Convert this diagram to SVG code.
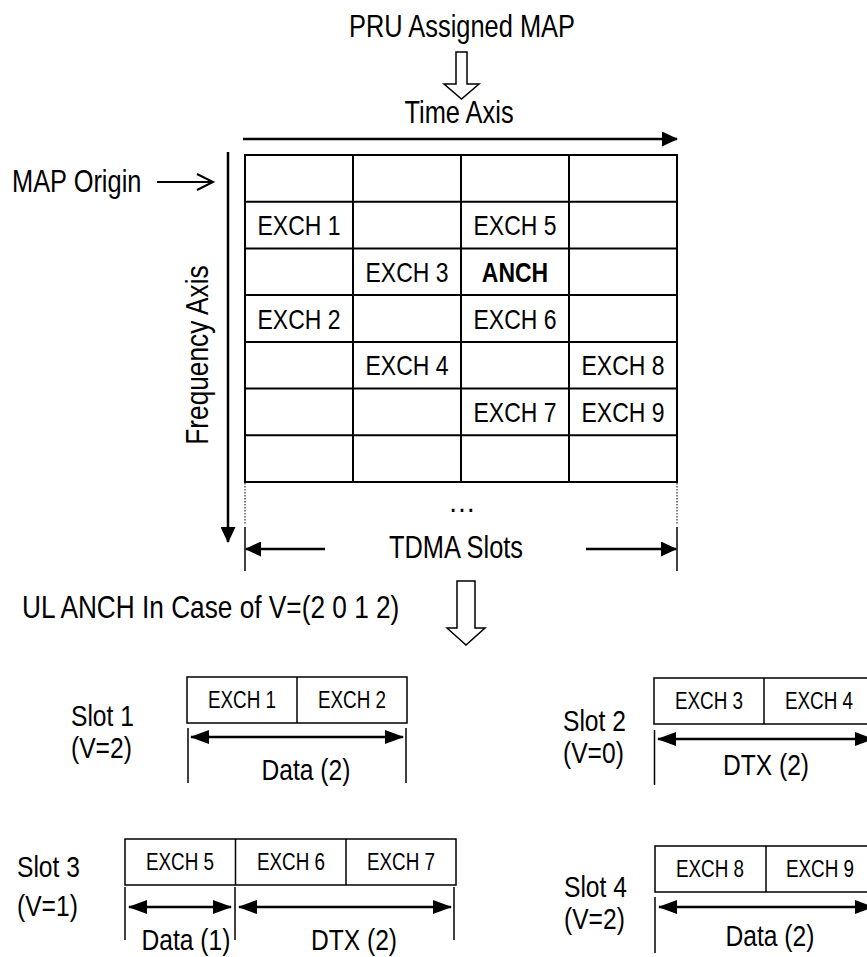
<svg xmlns="http://www.w3.org/2000/svg" width="867" height="957" viewBox="0 0 867 957">
<style>
text { font-family: "Liberation Sans", Arial, sans-serif; fill: #000; }
.big { font-size: 31px; }
.mid { font-size: 30px; }
.cell { font-size: 28px; text-anchor: middle; }
.small { font-size: 23px; text-anchor: middle; }
.c { text-anchor: middle; }
.gl { stroke: #000; stroke-width: 2; fill: none; }
.ax { stroke: #000; stroke-width: 2.5; fill: none; }
.bx { stroke: #000; stroke-width: 1.5; fill: #fff; }
.bar { stroke: #000; stroke-width: 1.5; }
.sa { stroke: #000; stroke-width: 2.5; fill: none; }
.dot { stroke: #000; stroke-width: 1; stroke-dasharray: 1.5 1.5; }
.hollow { fill: #fff; stroke: #000; stroke-width: 1.5; stroke-linejoin: miter; }
</style>
<defs>
<marker id="fa" markerUnits="userSpaceOnUse" markerWidth="16" markerHeight="15" refX="15" refY="7.5" orient="auto-start-reverse">
<path d="M0,0 L16,7.5 L0,15 z" fill="#000"/>
</marker>
<marker id="fs" markerUnits="userSpaceOnUse" markerWidth="19" markerHeight="14" refX="18" refY="7" orient="auto-start-reverse">
<path d="M0,0 L19,7 L0,14 z" fill="#000"/>
</marker>
<marker id="oa" markerUnits="userSpaceOnUse" markerWidth="20" markerHeight="20" refX="17" refY="9" orient="auto">
<path d="M1,1 L17,9 L1,17" fill="none" stroke="#000" stroke-width="2"/>
</marker>
</defs>

<g id="title">
<text class="big c" transform="translate(462,37) scale(0.82,1)">PRU Assigned MAP</text>
<polygon class="hollow" points="456,52 467,52 467,84 479,84 461.5,99 444,84 456,84"/>
</g>

<g id="time-axis">
<text class="big c" transform="translate(459,123) scale(0.82,1)">Time Axis</text>
</g>

<g id="map-origin">
<text class="big" transform="translate(12,192) scale(0.82,1)">MAP Origin</text>
</g>

<g id="frequency-axis">
<text class="big c" transform="translate(208,355) rotate(-90) scale(0.82,1)" style="font-size:32px">Frequency Axis</text>
</g>

<g id="grid">
<rect class="gl" x="245" y="155" width="432" height="327"/>
<line class="gl" x1="353" y1="155" x2="353" y2="482"/>
<line class="gl" x1="461" y1="155" x2="461" y2="482"/>
<line class="gl" x1="569" y1="155" x2="569" y2="482"/>
<line class="gl" x1="245" y1="201.7" x2="677" y2="201.7"/>
<line class="gl" x1="245" y1="248.4" x2="677" y2="248.4"/>
<line class="gl" x1="245" y1="295.1" x2="677" y2="295.1"/>
<line class="gl" x1="245" y1="341.9" x2="677" y2="341.9"/>
<line class="gl" x1="245" y1="388.6" x2="677" y2="388.6"/>
<line class="gl" x1="245" y1="435.3" x2="677" y2="435.3"/>
<text class="cell" transform="translate(299,235) scale(0.82,1)">EXCH 1</text>
<text class="cell" transform="translate(515,235) scale(0.82,1)">EXCH 5</text>
<text class="cell" transform="translate(407,282) scale(0.82,1)">EXCH 3</text>
<text class="cell" transform="translate(515,282) scale(0.82,1)" font-weight="bold">ANCH</text>
<text class="cell" transform="translate(299,328.5) scale(0.82,1)">EXCH 2</text>
<text class="cell" transform="translate(515,328.5) scale(0.82,1)">EXCH 6</text>
<text class="cell" transform="translate(407,375) scale(0.82,1)">EXCH 4</text>
<text class="cell" transform="translate(623,375) scale(0.82,1)">EXCH 8</text>
<text class="cell" transform="translate(515,422) scale(0.82,1)">EXCH 7</text>
<text class="cell" transform="translate(623,422) scale(0.82,1)">EXCH 9</text>
<text class="big c" transform="translate(462,512) scale(0.9,1)">…</text>
</g>

<g id="tdma-slots">
<text class="big c" transform="translate(456,558) scale(0.82,1)">TDMA Slots</text>
</g>

<g id="ul-anch">
<text class="big" transform="translate(22,618) scale(0.82,1)" style="font-size:32px">UL ANCH In Case of V=(2 0 1 2)</text>
<polygon class="hollow" points="457,581 475,581 475,628 485,628 466,645 447,628 457,628"/>
</g>

<g id="slot1">
<text class="mid" transform="translate(71,726) scale(0.82,1)">Slot 1</text>
<text class="mid" transform="translate(71,758) scale(0.82,1)">(V=2)</text>
<rect class="bx" x="187" y="677" width="220" height="46"/>
<line class="bar" x1="297" y1="677" x2="297" y2="723"/>
<text class="small" transform="translate(242,708) scale(0.82,1)">EXCH 1</text>
<text class="small" transform="translate(352,708) scale(0.82,1)">EXCH 2</text>
<text class="mid c" transform="translate(306,780) scale(0.82,1)">Data (2)</text>
</g>

<g id="slot2">
<text class="mid" transform="translate(563,731) scale(0.82,1)">Slot 2</text>
<text class="mid" transform="translate(563,763) scale(0.82,1)">(V=0)</text>
<rect class="bx" x="654" y="678" width="220" height="46"/>
<line class="bar" x1="764" y1="678" x2="764" y2="724"/>
<text class="small" transform="translate(709,709) scale(0.82,1)">EXCH 3</text>
<text class="small" transform="translate(819,709) scale(0.82,1)">EXCH 4</text>
<text class="mid c" transform="translate(766,775) scale(0.82,1)">DTX (2)</text>
</g>

<g id="slot3">
<text class="mid" transform="translate(17,877) scale(0.82,1)">Slot 3</text>
<text class="mid" transform="translate(17,916) scale(0.82,1)">(V=1)</text>
<rect class="bx" x="125" y="839" width="331" height="46"/>
<line class="bar" x1="235.5" y1="839" x2="235.5" y2="885"/>
<line class="bar" x1="346" y1="839" x2="346" y2="885"/>
<text class="small" transform="translate(180,870) scale(0.82,1)">EXCH 5</text>
<text class="small" transform="translate(291,870) scale(0.82,1)">EXCH 6</text>
<text class="small" transform="translate(401,870) scale(0.82,1)">EXCH 7</text>
<text class="mid c" transform="translate(186,950) scale(0.82,1)">Data (1)</text>
<text class="mid c" transform="translate(354,950) scale(0.82,1)">DTX (2)</text>
</g>

<g id="slot4">
<text class="mid" transform="translate(564,897) scale(0.82,1)">Slot 4</text>
<text class="mid" transform="translate(564,929) scale(0.82,1)">(V=2)</text>
<rect class="bx" x="655" y="846" width="220" height="46"/>
<line class="bar" x1="766" y1="846" x2="766" y2="892"/>
<text class="small" transform="translate(710,877) scale(0.82,1)">EXCH 8</text>
<text class="small" transform="translate(820,877) scale(0.82,1)">EXCH 9</text>
<text class="mid c" transform="translate(770,946) scale(0.82,1)">Data (2)</text>
</g>

<g id="connectors">
<line class="ax" x1="243" y1="139" x2="677" y2="139" marker-end="url(#fa)"/>
<line class="ax" x1="228" y1="152" x2="228" y2="542" marker-end="url(#fa)"/>
<line class="ax" x1="157" y1="182" x2="213" y2="182" marker-end="url(#oa)" style="stroke-width:2"/>
<line class="dot" x1="245" y1="483" x2="245" y2="524"/>
<line class="dot" x1="677" y1="483" x2="677" y2="524"/>
<line class="bar" x1="245" y1="527" x2="245" y2="571"/>
<line class="bar" x1="677" y1="527" x2="677" y2="571"/>
<line class="ax" x1="325" y1="549" x2="246" y2="549" marker-end="url(#fa)"/>
<line class="ax" x1="586" y1="549" x2="676" y2="549" marker-end="url(#fa)"/>
<line class="bar" x1="188" y1="728" x2="188" y2="783"/>
<line class="bar" x1="406" y1="728" x2="406" y2="783"/>
<line class="sa" x1="191" y1="737" x2="403" y2="737" marker-start="url(#fs)" marker-end="url(#fs)"/>
<line class="bar" x1="654.5" y1="730" x2="654.5" y2="785"/>
<line class="sa" x1="658" y1="739" x2="873" y2="739" marker-start="url(#fs)" marker-end="url(#fs)"/>
<line class="bar" x1="125" y1="887" x2="125" y2="940"/>
<line class="bar" x1="235" y1="887" x2="235" y2="940"/>
<line class="bar" x1="454" y1="887" x2="454" y2="940"/>
<line class="sa" x1="129" y1="907" x2="231" y2="907" marker-start="url(#fs)" marker-end="url(#fs)"/>
<line class="sa" x1="239" y1="907" x2="451" y2="907" marker-start="url(#fs)" marker-end="url(#fs)"/>
<line class="bar" x1="655" y1="897" x2="655" y2="953"/>
<line class="sa" x1="659" y1="907" x2="873" y2="907" marker-start="url(#fs)" marker-end="url(#fs)"/>
</g>
</svg>
